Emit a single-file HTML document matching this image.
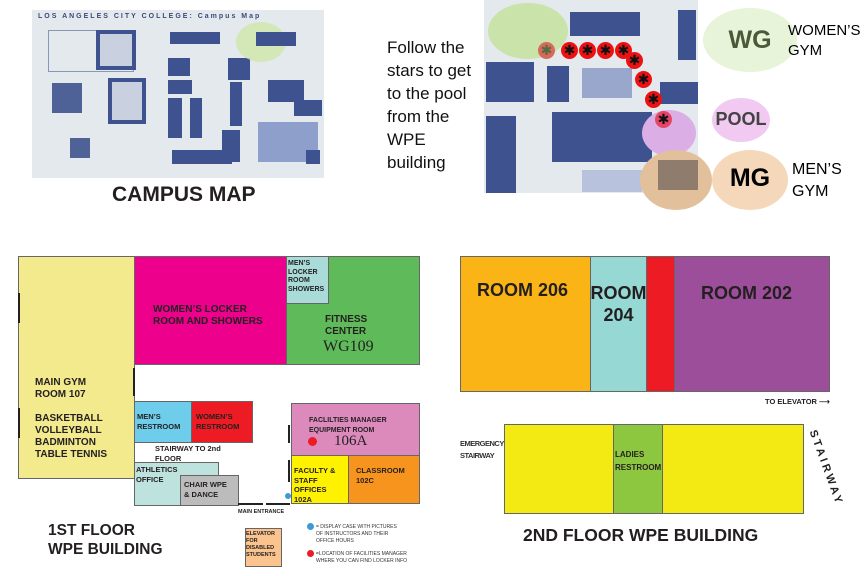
<!DOCTYPE html>
<html><head><meta charset="utf-8"><style>
body{margin:0;width:864px;height:576px;background:#fff;position:relative;overflow:hidden;font-family:"Liberation Sans",sans-serif}
div{position:absolute;box-sizing:border-box}
.b{font-weight:bold;color:#231f20}
.r{border:1px solid #666}
.w{background:#222}
.st{width:17px;height:17px;border-radius:50%;background:#ee1111;color:#111;font-size:14px;line-height:17px;text-align:center}
</style></head><body>

<!-- campus map -->
<div style="left:32px;top:10px;width:292px;height:168px;background:#e4e9ee"></div>
<div style="left:38px;top:13px;width:260px;font-size:7px;font-weight:bold;color:#3a4a7a;letter-spacing:2px">LOS ANGELES CITY COLLEGE: Campus Map</div>
<div style="left:48px;top:30px;width:86px;height:42px;border:1px solid #8896b8"></div>
<div style="left:96px;top:30px;width:40px;height:40px;border:4px solid #3f5290;background:#c9d0e0"></div>
<div style="left:52px;top:83px;width:30px;height:30px;background:#4f6298"></div>
<div style="left:108px;top:78px;width:38px;height:46px;border:4px solid #3f5290;background:#c9d0e0"></div>
<div style="left:70px;top:138px;width:20px;height:20px;background:#4f6298"></div>
<div style="left:170px;top:32px;width:50px;height:12px;background:#3f5290"></div>
<div style="left:168px;top:58px;width:22px;height:18px;background:#3f5290"></div>
<div style="left:168px;top:80px;width:24px;height:14px;background:#3f5290"></div>
<div style="left:168px;top:98px;width:14px;height:40px;background:#3f5290"></div>
<div style="left:190px;top:98px;width:12px;height:40px;background:#3f5290"></div>
<div style="left:172px;top:150px;width:44px;height:14px;background:#3f5290"></div>
<div style="left:228px;top:58px;width:22px;height:22px;background:#3f5290"></div>
<div style="left:230px;top:82px;width:12px;height:44px;background:#3f5290"></div>
<div style="left:222px;top:130px;width:18px;height:32px;background:#3f5290"></div>
<div style="left:202px;top:150px;width:30px;height:14px;background:#3f5290"></div>
<div style="left:268px;top:80px;width:36px;height:22px;background:#3f5290"></div>
<div style="left:258px;top:122px;width:60px;height:40px;background:#8f9fcc"></div>
<div style="left:294px;top:100px;width:28px;height:16px;background:#3f5290"></div>
<div style="left:306px;top:150px;width:14px;height:14px;background:#3f5290"></div>
<div style="left:236px;top:22px;width:50px;height:40px;border-radius:50%;background:#cfe6a8;opacity:.8"></div>
<div style="left:256px;top:32px;width:40px;height:14px;background:#3f5290"></div>
<div style="left:112px;top:183px;font-size:21px" class="b">CAMPUS MAP</div>

<!-- right map -->
<div style="left:484px;top:0;width:214px;height:193px;background:#e4e9ee"></div>
<div style="left:570px;top:12px;width:70px;height:24px;background:#3f5290"></div>
<div style="left:486px;top:62px;width:48px;height:40px;background:#3f5290"></div>
<div style="left:547px;top:66px;width:22px;height:36px;background:#3f5290"></div>
<div style="left:552px;top:112px;width:100px;height:50px;background:#3f5290"></div>
<div style="left:486px;top:116px;width:30px;height:77px;background:#3f5290"></div>
<div style="left:678px;top:10px;width:18px;height:50px;background:#3f5290"></div>
<div style="left:660px;top:82px;width:38px;height:22px;background:#3f5290"></div>
<div style="left:582px;top:68px;width:50px;height:30px;background:#9aa7cc"></div>
<div style="left:582px;top:170px;width:60px;height:22px;background:#b8c2dc"></div>
<div style="left:488px;top:3px;width:80px;height:56px;border-radius:50%;background:#c7e2a3;opacity:.9"></div>
<div style="left:642px;top:110px;width:54px;height:46px;border-radius:50%;background:#dcaee6"></div>
<div style="left:640px;top:150px;width:72px;height:60px;border-radius:50%;background:#e3c09c"></div>
<div style="left:658px;top:160px;width:40px;height:30px;background:#7a6a60;opacity:.8"></div>

<div class="st" style="left:538px;top:42px;background:#d86a5a;color:#556b44">✱</div>
<div class="st" style="left:561px;top:42px">✱</div>
<div class="st" style="left:579px;top:42px">✱</div>
<div class="st" style="left:597px;top:42px">✱</div>
<div class="st" style="left:615px;top:42px">✱</div>
<div class="st" style="left:626px;top:52px">✱</div>
<div class="st" style="left:635px;top:71px">✱</div>
<div class="st" style="left:645px;top:91px">✱</div>
<div class="st" style="left:655px;top:111px;background:#e84466">✱</div>

<div style="left:703px;top:8px;width:94px;height:64px;border-radius:50%;background:#e7f4d9"></div>
<div style="left:703px;top:26px;width:94px;text-align:center;font-size:25px;font-weight:bold;color:#4a5a38">WG</div>
<div style="left:788px;top:21px;font-size:15px;line-height:20px">WOMEN’S<br>GYM</div>
<div style="left:712px;top:98px;width:58px;height:44px;border-radius:50%;background:#f1c9f1"></div>
<div style="left:712px;top:109px;width:58px;text-align:center;font-size:18px;font-weight:bold;color:#444">POOL</div>
<div style="left:712px;top:150px;width:76px;height:60px;border-radius:50%;background:#f5d8ba"></div>
<div style="left:712px;top:164px;width:76px;text-align:center;font-size:25px;font-weight:bold">MG</div>
<div style="left:792px;top:159px;font-size:16px;line-height:22px">MEN’S<br>GYM</div>
<div style="left:387px;top:36px;font-size:17px;line-height:23px;color:#111">Follow the<br>stars to get<br>to the pool<br>from the<br>WPE<br>building</div>

<!-- 1st floor -->
<div class="r" style="left:18px;top:256px;width:117px;height:223px;background:#f2ea8d"></div>
<div class="r" style="left:134px;top:256px;width:153px;height:109px;background:#ec008c"></div>
<div class="r" style="left:286px;top:256px;width:134px;height:109px;background:#5fbb5a"></div>
<div class="r" style="left:286px;top:256px;width:43px;height:48px;background:#a9dcd9"></div>
<div class="b" style="left:288px;top:260px;font-size:7px;line-height:8.5px">MEN’S<br>LOCKER<br>ROOM<br>SHOWERS</div>
<div class="b" style="left:153px;top:304px;font-size:10px;line-height:12px">WOMEN’S LOCKER<br>ROOM AND SHOWERS</div>
<div class="b" style="left:325px;top:314px;font-size:10px;line-height:12px">FITNESS<br>CENTER</div>
<div style="left:323px;top:338px;font-size:16px;font-family:'Liberation Serif',serif;color:#222">WG109</div>
<div class="b" style="left:35px;top:377px;font-size:10px;line-height:12px">MAIN GYM<br>ROOM 107<br><br>BASKETBALL<br>VOLLEYBALL<br>BADMINTON<br>TABLE TENNIS</div>
<div class="r" style="left:134px;top:401px;width:58px;height:42px;background:#6dcdeb"></div>
<div class="r" style="left:191px;top:401px;width:62px;height:42px;background:#ed1c24"></div>
<div class="b" style="left:137px;top:412px;font-size:7.5px;line-height:10px">MEN’S<br>RESTROOM</div>
<div class="b" style="left:196px;top:412px;font-size:7.5px;line-height:10px">WOMEN’S<br>RESTROOM</div>
<div class="b" style="left:155px;top:444px;font-size:7.5px;line-height:10px">STAIRWAY TO 2nd<br>FLOOR</div>
<div class="r" style="left:134px;top:462px;width:85px;height:44px;background:#bee2dd"></div>
<div class="r" style="left:180px;top:475px;width:59px;height:31px;background:#bcbcbc"></div>
<div class="b" style="left:136px;top:465px;font-size:7.5px;line-height:10px">ATHLETICS<br>OFFICE</div>
<div class="b" style="left:184px;top:480px;font-size:7.5px;line-height:10px">CHAIR WPE<br>&amp; DANCE</div>
<div class="r" style="left:291px;top:403px;width:129px;height:53px;background:#dc89bc"></div>
<div class="b" style="left:309px;top:416px;font-size:7px;line-height:9.5px">FACLILTIES MANAGER<br>EQUIPMENT ROOM</div>
<div style="left:308px;top:437px;width:9px;height:9px;border-radius:50%;background:#ed1c24"></div>
<div style="left:334px;top:433px;font-size:15px;font-family:'Liberation Serif',serif;color:#222">106A</div>
<div class="r" style="left:291px;top:455px;width:58px;height:49px;background:#fff200"></div>
<div class="r" style="left:348px;top:455px;width:72px;height:49px;background:#f7941d"></div>
<div class="b" style="left:294px;top:466px;font-size:7.5px;line-height:9.5px">FACULTY &amp;<br>STAFF<br>OFFICES<br>102A</div>
<div class="b" style="left:356px;top:466px;font-size:7.5px;line-height:10px">CLASSROOM<br>102C</div>
<div style="left:285px;top:493px;width:6px;height:6px;border-radius:50%;background:#3d9ad8"></div>
<div class="b" style="left:238px;top:509px;font-size:5.5px">MAIN ENTRANCE</div>
<div class="w" style="left:238px;top:503px;width:25px;height:2px"></div>
<div class="w" style="left:266px;top:503px;width:24px;height:2px"></div>
<div class="w" style="left:18px;top:293px;width:2px;height:30px"></div>
<div class="w" style="left:18px;top:408px;width:2px;height:30px"></div>
<div class="w" style="left:133px;top:368px;width:2px;height:28px"></div>
<div class="w" style="left:288px;top:425px;width:2px;height:18px"></div>
<div class="w" style="left:288px;top:460px;width:2px;height:22px"></div>
<div class="b" style="left:48px;top:521px;font-size:15.5px;line-height:19px">1ST FLOOR<br>WPE BUILDING</div>
<div class="r" style="left:245px;top:528px;width:37px;height:39px;background:#fbc48f"></div>
<div class="b" style="left:246px;top:531px;font-size:5.5px;line-height:7px">ELEVATOR<br>FOR<br>DISABLED<br>STUDENTS</div>
<div style="left:307px;top:523px;width:7px;height:7px;border-radius:50%;background:#3d9ad8"></div>
<div style="left:316px;top:524px;font-size:5px;line-height:7px;color:#333">= DISPLAY CASE WITH PICTURES<br>OF INSTRUCTORS AND THEIR<br>OFFICE HOURS</div>
<div style="left:307px;top:550px;width:7px;height:7px;border-radius:50%;background:#ed1c24"></div>
<div style="left:316px;top:551px;font-size:5px;line-height:7px;color:#333">=LOCATION OF FACILITIES MANAGER<br>WHERE YOU CAN FIND LOCKER INFO</div>

<!-- 2nd floor -->
<div class="r" style="left:460px;top:256px;width:131px;height:136px;background:#fbb416"></div>
<div class="r" style="left:590px;top:256px;width:57px;height:136px;background:#95d8d4"></div>
<div class="r" style="left:646px;top:256px;width:29px;height:136px;background:#ed1c24"></div>
<div class="r" style="left:674px;top:256px;width:156px;height:136px;background:#9c4e9b"></div>
<div class="b" style="left:477px;top:280px;font-size:18px">ROOM 206</div>
<div class="b" style="left:590px;top:282px;width:57px;text-align:center;font-size:18px;line-height:22px">ROOM<br>204</div>
<div class="b" style="left:701px;top:283px;font-size:18px">ROOM 202</div>
<div class="b" style="left:765px;top:397px;font-size:7.5px">TO ELEVATOR ⟶</div>
<div class="r" style="left:504px;top:424px;width:300px;height:90px;background:#f2ea12"></div>
<div class="r" style="left:613px;top:424px;width:50px;height:90px;background:#8dc63f"></div>
<div class="b" style="left:615px;top:448px;font-size:8px;line-height:13px">LADIES<br>RESTROOM</div>
<div style="left:460px;top:438px;font-size:7.5px;line-height:12px;font-weight:bold;letter-spacing:-.5px;color:#333">EMERGENCY<br>STAIRWAY</div>
<div class="b" style="left:786px;top:462px;width:80px;text-align:center;font-size:11px;letter-spacing:3px;transform:rotate(70deg)">STAIRWAY</div>
<div class="b" style="left:523px;top:525px;font-size:17.5px">2ND FLOOR WPE BUILDING</div>
</body></html>
